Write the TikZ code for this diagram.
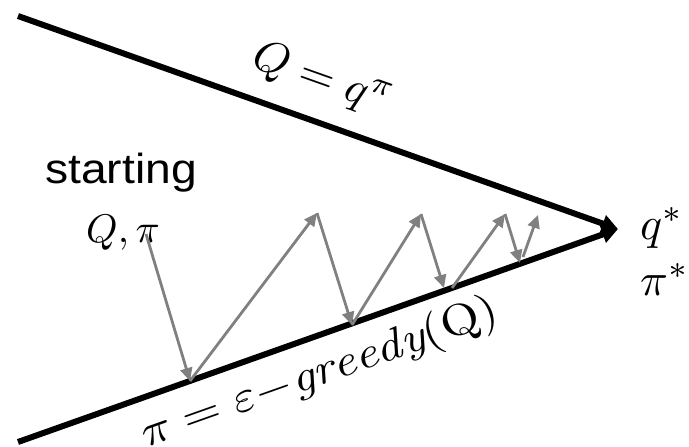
\documentclass[tikz,border=0pt]{standalone}
\usepackage{fontspec}
\setsansfont{Liberation Sans}
\usetikzlibrary{arrows.meta}
\definecolor{arrowgray}{RGB}{128,128,128}
\newcommand{\bigmath}[3]{\scalebox{#1}[#2]{$#3$}}
\begin{document}
\begin{tikzpicture}[x=1pt,y=-1pt,
  bigline/.style={line width=6pt, black, -{Triangle[length=16pt,width=17pt]}},
  grayarrow/.style={line width=2.8pt, arrowgray, -{Triangle[length=13pt,width=12pt]}},
  mathlbl/.style={inner sep=0pt},
  startlbl/.style={font=\sffamily\fontsize{42}{48}\selectfont, inner sep=0pt}]
\useasboundingbox (0,0) rectangle (689,447);
% main lines
\coordinate (tl) at (18,16);
\coordinate (bl) at (18,442);
\coordinate (tip) at (618,229);
\draw[bigline] (tl) -- (tip);
\draw[bigline] (bl) -- (tip);
% labels
\node[mathlbl, rotate=-19.5] (qeq) at (322,80) {\bigmath{4.6}{4.5}{Q = q^{\pi}}};
\node[mathlbl, rotate=19.5] (pieq) at (320,374) {\bigmath{5.0}{4.4}{\pi = \varepsilon{-}\mathit{greedy}(\mathrm{Q})}};
\node[startlbl, anchor=base west] (start) at (45,183) {\scalebox{1.1}[1]{starting}};
\node[mathlbl, anchor=base west] (qpi) at (86,242) {\bigmath{4}{4}{Q,\pi}};
\node[mathlbl, anchor=base west] (qstar) at (640,239) {\bigmath{4.6}{4.6}{q^*}};
\node[mathlbl, anchor=base west] (pistar) at (640,295) {\bigmath{4.6}{4.6}{\pi^*}};
% gray zigzag
\coordinate (p0) at (146,234);
\coordinate (p1) at (190,381);
\coordinate (p2) at (317,213);
\coordinate (p3) at (352,325);
\coordinate (p4) at (421,214);
\coordinate (p5) at (444,288);
\coordinate (p5b) at (452,288);
\coordinate (p6) at (505,214);
\coordinate (p7) at (520,263);
\coordinate (p7b) at (523,257);
\coordinate (p8) at (538,215);
\draw[grayarrow] (p0) -- (p1);
\draw[grayarrow] (p1) -- (p2);
\draw[grayarrow] (p2) -- (p3);
\draw[grayarrow] (p3) -- (p4);
\draw[grayarrow] (p4) -- (p5);
\draw[grayarrow] (p5b) -- (p6);
\draw[grayarrow] (p6) -- (p7);
\draw[grayarrow] (p7b) -- (p8);
\end{tikzpicture}
\end{document}
